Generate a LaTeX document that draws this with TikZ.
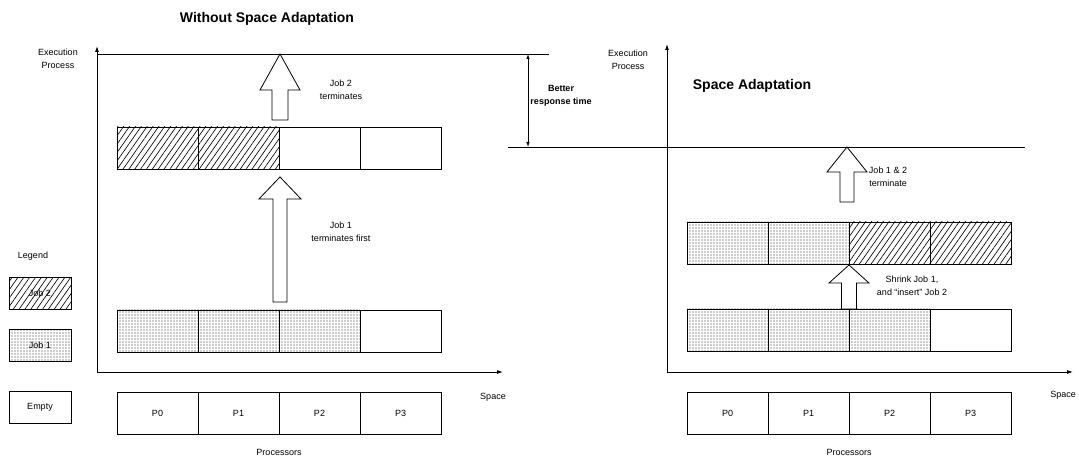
\documentclass[tikz,border=0pt]{standalone}
\usepackage{fontspec}
\setmainfont{Liberation Sans}
\usetikzlibrary{arrows.meta,patterns.meta}
\newcommand\blockarrowpath[6]{% x, tip y, head y, head half width, shaft half width, bottom y
  \draw[blockarrow] (#1-#5,#6) -- (#1-#5,#3) -- (#1-#4,#3) -- (#1,#2) -- (#1+#4,#3) -- (#1+#5,#3) -- (#1+#5,#6) -- cycle;}
\begin{document}
\begin{tikzpicture}[x=1pt,y=-1pt,
  lbl/.style={font=\fontsize{9}{12.5}\selectfont, align=center, inner sep=0},
  bl/.style={lbl, font=\fontsize{9}{12.5}\selectfont\bfseries},
  ttl/.style={font=\fontsize{14}{16}\selectfont\bfseries, inner sep=0},
  cell/.style={draw, line width=0.7pt, minimum width=81pt, minimum height=42pt, inner sep=0, font=\fontsize{9}{11}\selectfont},
  leg/.style={draw, line width=0.7pt, minimum width=62pt, minimum height=32pt, inner sep=0, font=\fontsize{9}{11}\selectfont},
  job1/.style={pattern={Dots[distance=3pt,radius=0.6pt]}, pattern color=black!85},
  job2/.style={pattern={Lines[angle=55,distance=4.8pt,line width=0.65pt]}},
  axis/.style={line width=0.9pt, -{Latex[length=6pt,width=4pt]}},
  rule/.style={line width=0.8pt},
  blockarrow/.style={draw, line width=0.8pt, fill=white, line join=miter},
]
\useasboundingbox (0,0) rectangle (1079,462);

% ---------- titles ----------
\node[ttl] (t1) at (267,19) {Without Space Adaptation};
\node[ttl] (t2) at (752,86) {Space Adaptation};

% ---------- left axes ----------
\coordinate (O1) at (97,372);
\coordinate (Y1) at (97,46);
\coordinate (X1) at (503,372);
\draw[axis] (O1) -- (Y1);
\draw[axis] (O1) -- (X1);
\node[lbl] (e1) at (58,59) {Execution\\Process};
\node[lbl] (s1) at (493,397) {Space};
\node[lbl] (pr1) at (279,452) {Processors};

% ---------- right axes ----------
\coordinate (O2) at (667,372);
\coordinate (Y2) at (667,44);
\coordinate (X2) at (1073,372);
\draw[axis] (O2) -- (Y2);
\draw[axis] (O2) -- (X2);
\node[lbl] (e2) at (628,60) {Execution\\Process};
\node[lbl] (s2) at (1063,395) {Space};
\node[lbl] (pr2) at (849,452) {Processors};

% ---------- horizontal reference lines ----------
\coordinate (L1a) at (97,54);
\coordinate (L1b) at (549,54);
\draw[rule] (L1a) -- (L1b);
\coordinate (L2a) at (508,147);
\coordinate (L2b) at (1025,147);
\draw[rule] (L2a) -- (L2b);
\coordinate (B1) at (528,54);
\coordinate (B2) at (528,147);
\draw[line width=0.8pt, {Latex[length=5pt,width=3.5pt]}-{Latex[length=5pt,width=3.5pt]}] (B1) -- (B2);
\node[bl] (better) at (561,96) {Better\\response time};

% ---------- left processors ----------
\foreach \i/\x in {0/157.5,1/238.5,2/319.5,3/400.5}{
  \node[cell] (lp\i) at (\x,413) {P\i};
}
% left lower row: Job 1 on P0-P2
\node[cell, job1] (la0) at (157.5,331) {};
\node[cell, job1] (la1) at (238.5,331) {};
\node[cell, job1] (la2) at (319.5,331) {};
\node[cell] (la3) at (400.5,331) {};
% left upper row: Job 2 on P0-P1
\node[cell, job2] (lb0) at (157.5,148) {};
\node[cell, job2] (lb1) at (238.5,148) {};
\node[cell] (lb2) at (319.5,148) {};
\node[cell] (lb3) at (400.5,148) {};

% left block arrows
\blockarrowpath{280}{177}{199}{21}{7}{302}
\node[lbl] (j1t) at (341,232) {Job 1\\terminates first};
\blockarrowpath{280}{54}{90}{20}{8}{120}
\node[lbl] (j2t) at (341,90) {Job 2\\terminates};

% ---------- right processors ----------
\foreach \i/\x in {0/727.5,1/808.5,2/889.5,3/970.5}{
  \node[cell] (rp\i) at (\x,413) {P\i};
}
% right lower row: Job 1 on P0-P2
\node[cell, job1] (ra0) at (727.5,330) {};
\node[cell, job1] (ra1) at (808.5,330) {};
\node[cell, job1] (ra2) at (889.5,330) {};
\node[cell] (ra3) at (970.5,330) {};
% right upper row: Job 1 on P0-P1, Job 2 on P2-P3
\node[cell, job1] (rb0) at (727.5,243) {};
\node[cell, job1] (rb1) at (808.5,243) {};
\node[cell, job2] (rb2) at (889.5,243) {};
\node[cell, job2] (rb3) at (970.5,243) {};

% right block arrows
\blockarrowpath{849}{265}{283}{20}{7.5}{309}
\node[lbl] (shr) at (912,286) {Shrink Job 1,\\and “insert” Job 2};
\blockarrowpath{847}{147}{172}{20}{7}{202}
\node[lbl] (j12) at (888,177) {Job 1 \& 2\\terminate};

% ---------- legend ----------
\node[lbl] (legend) at (33,256) {Legend};
\node[leg, job2] (lg2) at (40,293.5) {Job 2};
\node[leg, job1] (lg1) at (40,345.5) {Job 1};
\node[leg] (lg0) at (40,407) {Empty};
\end{tikzpicture}
\end{document}
